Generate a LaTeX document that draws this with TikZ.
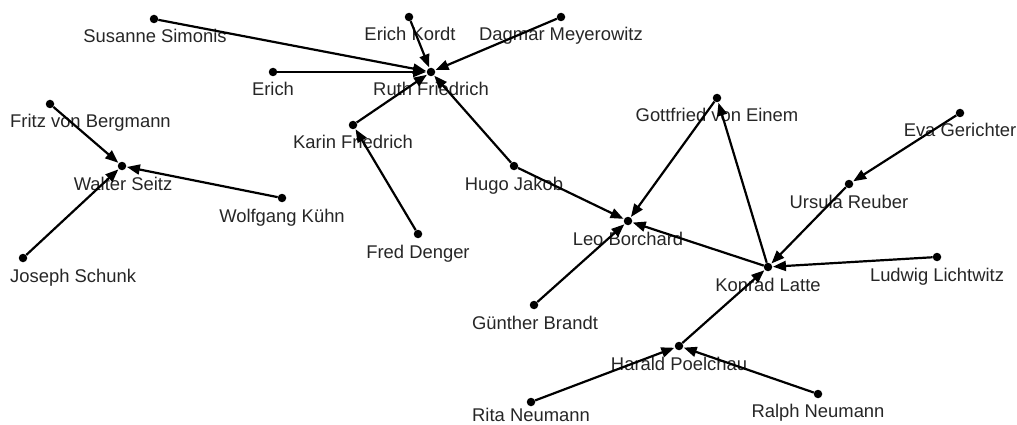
\documentclass[tikz,border=0pt]{standalone}
\usepackage{fontspec}
\setmainfont{Liberation Sans}
\usetikzlibrary{arrows.meta}
\tikzset{
  dot/.style={circle,fill=black,inner sep=0pt,minimum size=8.5pt},
  lbl/.style={anchor=base,inner sep=0pt,text=black!85,font=\fontsize{18.4}{22}\selectfont},
  link/.style={-{Triangle[length=13pt,width=10pt]},line width=2.2pt,shorten >=0.5pt}
}
\begin{document}
\begin{tikzpicture}[x=1pt,y=-1pt]
\useasboundingbox (0,0) rectangle (1017,425);
% labels
\node[lbl] (SSl) at (155,43) {Susanne Simonis};
\node[lbl] (EKl) at (410,41) {Erich Kordt};
\node[lbl] (DMl) at (561,41) {Dagmar Meyerowitz};
\node[lbl] (ERl) at (273,96) {Erich};
\node[lbl] (RFl) at (431,96) {Ruth Friedrich};
\node[lbl] (KFl) at (353,149) {Karin Friedrich};
\node[lbl,anchor=base west] (FBl) at (10,128) {Fritz von Bergmann};
\node[lbl] (WSl) at (123,190) {Walter Seitz};
\node[lbl] (WKl) at (282,222) {Wolfgang Kühn};
\node[lbl,anchor=base west] (JSl) at (10,282) {Joseph Schunk};
\node[lbl] (FDl) at (418,258) {Fred Denger};
\node[lbl] (HJl) at (514,190) {Hugo Jakob};
\node[lbl] (GEl) at (717,122) {Gottfried von Einem};
\node[lbl] (EGl) at (960,137) {Eva Gerichter};
\node[lbl] (URl) at (849,208) {Ursula Reuber};
\node[lbl] (LBl) at (628,245) {Leo Borchard};
\node[lbl] (KLl) at (768,291) {Konrad Latte};
\node[lbl] (LLl) at (937,281) {Ludwig Lichtwitz};
\node[lbl] (GBl) at (535,329) {Günther Brandt};
\node[lbl] (HPl) at (679,370) {Harald Poelchau};
\node[lbl] (RNl) at (531,421) {Rita Neumann};
\node[lbl] (RaNl) at (818,417) {Ralph Neumann};
% points
\node[dot] (SS) at (154,19) {};
\node[dot] (EK) at (409,17) {};
\node[dot] (DM) at (561,17) {};
\node[dot] (ER) at (273,72) {};
\node[dot] (RF) at (431,72) {};
\node[dot] (KF) at (353,125) {};
\node[dot] (FB) at (50,104) {};
\node[dot] (WS) at (122,166) {};
\node[dot] (WK) at (282,198) {};
\node[dot] (JS) at (23,258) {};
\node[dot] (FD) at (418,234) {};
\node[dot] (HJ) at (514,166) {};
\node[dot] (GE) at (717,98) {};
\node[dot] (EG) at (960,113) {};
\node[dot] (UR) at (849,184) {};
\node[dot] (LB) at (628,221) {};
\node[dot] (KL) at (768,267) {};
\node[dot] (LL) at (937,257) {};
\node[dot] (GB) at (534,305) {};
\node[dot] (HP) at (679,346) {};
\node[dot] (RN) at (531,402) {};
\node[dot] (RaN) at (818,394) {};
% relations
\draw[link] (SS) -- (RF);
\draw[link] (EK) -- (RF);
\draw[link] (DM) -- (RF);
\draw[link] (ER) -- (RF);
\draw[link] (KF) -- (RF);
\draw[link] (HJ) -- (RF);
\draw[link] (FD) -- (KF);
\draw[link] (FB) -- (WS);
\draw[link] (WK) -- (WS);
\draw[link] (JS) -- (WS);
\draw[link] (HJ) -- (LB);
\draw[link] (GE) -- (LB);
\draw[link] (KL) -- (LB);
\draw[link] (GB) -- (LB);
\draw[link] (KL) -- (GE);
\draw[link] (EG) -- (UR);
\draw[link] (UR) -- (KL);
\draw[link] (LL) -- (KL);
\draw[link] (HP) -- (KL);
\draw[link] (RN) -- (HP);
\draw[link] (RaN) -- (HP);
\end{tikzpicture}
\end{document}
